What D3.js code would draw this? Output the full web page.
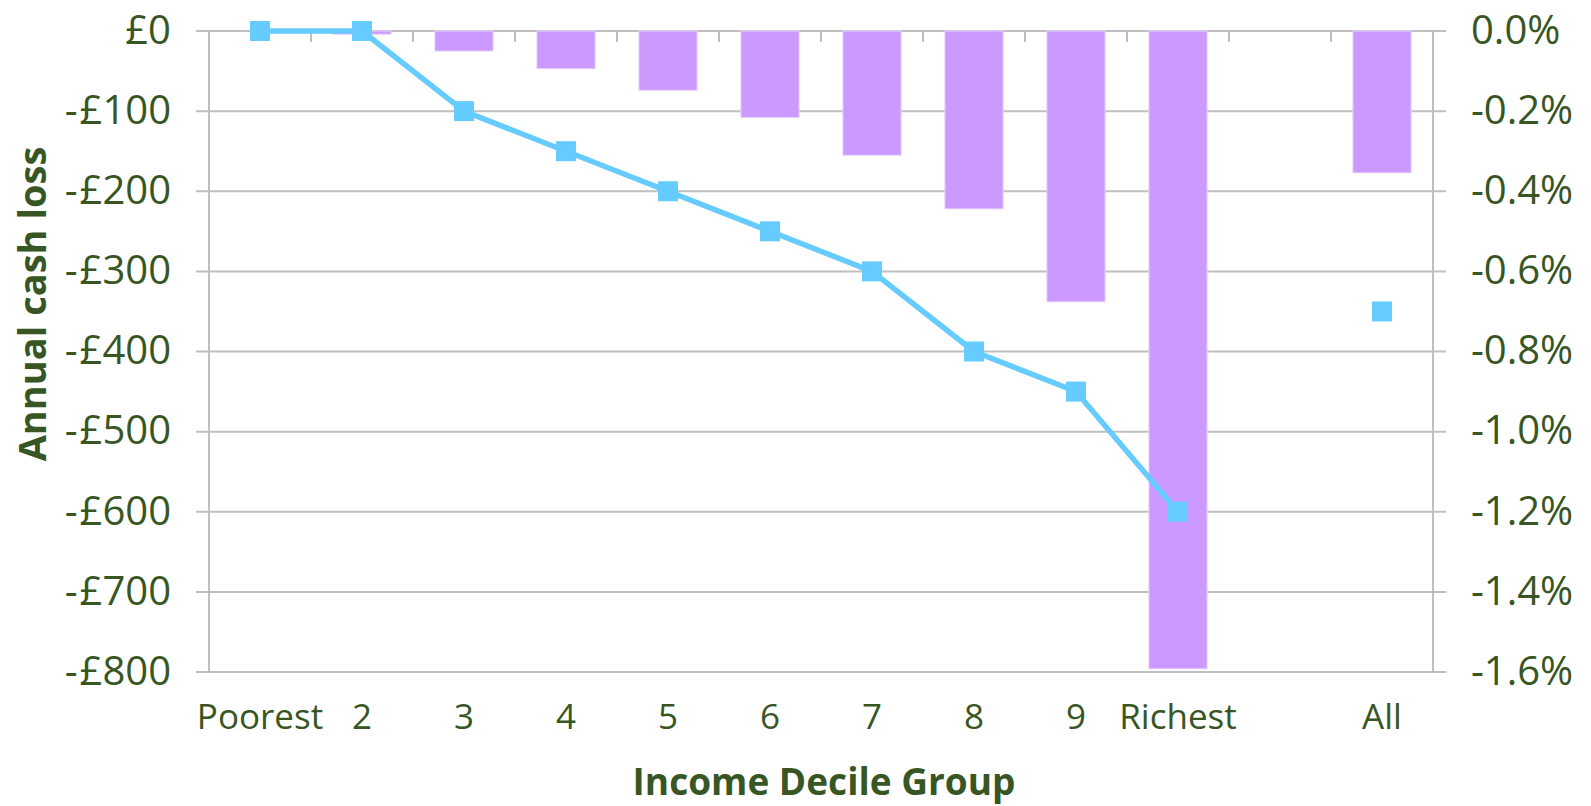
<!DOCTYPE html>
<html>
<head>
<meta charset="utf-8">
<script src="https://cdn.jsdelivr.net/npm/d3@7"></script>
<style>
  html, body { margin: 0; padding: 0; background: #fff; }
  svg { display: block; }
</style>
</head>
<body>
<svg id="chart" width="1591" height="806"></svg>
<script>
// ---- Data ----
const categories = ["Poorest", "2", "3", "4", "5", "6", "7", "8", "9", "Richest", "", "All"];
const cashLoss = [0, -4, -25, -47, -74, -108, -155, -222, -338, -796, null, -177];   // £ per year (left axis)
const pctLoss  = [0, 0, -0.2, -0.3, -0.4, -0.5, -0.6, -0.8, -0.9, -1.2, null, -0.7]; // % of income (right axis)
const leftTicks  = [0, -100, -200, -300, -400, -500, -600, -700, -800];
const rightTicks = [0, -0.2, -0.4, -0.6, -0.8, -1.0, -1.2, -1.4, -1.6];
const xTitle = "Income Decile Group";
const yTitle = "Annual cash loss";

// ---- Layout ----
const W = 1591, H = 806;
const plot = { left: 209, right: 1433, top: 31, bottom: 672 };
const textColor = "#375623";
const gridColor = "#BFBFBF";
const barColor = "#CC99FF";
const lineColor = "#66CCFF";
const font = "'Open Sans', 'Noto Sans', sans-serif";

const svg = d3.select("#chart");

const x = d3.scaleBand().domain(d3.range(categories.length)).range([plot.left, plot.right]).padding(0);
const yL = d3.scaleLinear().domain([-800, 0]).range([plot.bottom, plot.top]);
const yR = d3.scaleLinear().domain([-1.6, 0]).range([plot.bottom, plot.top]);

// gridlines (with outside ticks on both sides)
svg.append("g").selectAll("line").data(leftTicks).join("line")
  .attr("x1", plot.left - 13).attr("x2", plot.right + 13)
  .attr("y1", d => yL(d)).attr("y2", d => yL(d))
  .attr("stroke", gridColor).attr("stroke-width", 2);

// left and right axis lines
svg.append("line").attr("x1", plot.left).attr("x2", plot.left)
  .attr("y1", plot.top).attr("y2", plot.bottom).attr("stroke", gridColor).attr("stroke-width", 2);
svg.append("line").attr("x1", plot.right).attr("x2", plot.right)
  .attr("y1", plot.top).attr("y2", plot.bottom).attr("stroke", gridColor).attr("stroke-width", 2);

// category boundary ticks on zero line (pointing down)
svg.append("g").selectAll("line").data(d3.range(1, categories.length)).join("line")
  .attr("x1", d => x(d)).attr("x2", d => x(d))
  .attr("y1", yL(0)).attr("y2", yL(0) + 11)
  .attr("stroke", gridColor).attr("stroke-width", 2);

// bars
const bw = x.bandwidth() * 0.57;
svg.append("g").selectAll("rect")
  .data(cashLoss.map((v, i) => ({ v, i })).filter(d => d.v !== null && d.v !== 0))
  .join("rect")
  .attr("x", d => x(d.i) + (x.bandwidth() - bw) / 2)
  .attr("width", bw)
  .attr("y", yL(0))
  .attr("height", d => yL(d.v) - yL(0))
  .attr("fill", barColor)
  .attr("stroke", "#E6D0FF").attr("stroke-width", 1);

// line (connected deciles)
const pts = pctLoss.map((v, i) => ({ v, i }));
const line = d3.line()
  .defined(d => d.v !== null)
  .x(d => x(d.i) + x.bandwidth() / 2)
  .y(d => yR(d.v));
svg.append("path").datum(pts.filter(d => d.i <= 9))
  .attr("d", line).attr("fill", "none")
  .attr("stroke", lineColor).attr("stroke-width", 5.5).attr("stroke-linejoin", "round");

// markers
const ms = 20;
svg.append("g").selectAll("rect")
  .data(pts.filter(d => d.v !== null)).join("rect")
  .attr("x", d => x(d.i) + x.bandwidth() / 2 - ms / 2)
  .attr("y", d => yR(d.v) - ms / 2)
  .attr("width", ms).attr("height", ms)
  .attr("fill", lineColor);

// left tick labels
const lt = svg.append("g").selectAll("text").data(leftTicks).join("text")
  .attr("x", 171).attr("y", d => yL(d)).attr("dy", "0.32em")
  .attr("text-anchor", "end")
  .attr("font-family", font).attr("font-size", 40).attr("fill", textColor);
lt.each(function(d) {
  const t = d3.select(this);
  if (d === 0) { t.text("£0"); }
  else {
    t.append("tspan").text("-");
    t.append("tspan").attr("dx", 2).text("£" + Math.abs(d));
  }
});

// right tick labels
svg.append("g").selectAll("text").data(rightTicks).join("text")
  .attr("x", 1471).attr("y", d => yR(d)).attr("dy", "0.32em")
  .attr("text-anchor", "start")
  .attr("font-family", font).attr("font-size", 40).attr("fill", textColor)
  .text(d => d3.format(".1f")(d).replace("−", "-") + "%");

// category labels
svg.append("g").selectAll("text").data(categories.map((c, i) => ({ c, i })).filter(d => d.c !== "")).join("text")
  .attr("x", d => x(d.i) + x.bandwidth() / 2).attr("y", 729)
  .attr("text-anchor", "middle")
  .attr("font-family", font).attr("font-size", 35).attr("fill", textColor)
  .text(d => d.c);

// axis titles
svg.append("text")
  .attr("x", (629 + 1019) / 2).attr("y", 795)
  .attr("text-anchor", "middle")
  .attr("font-family", font).attr("font-size", 37).attr("font-weight", "bold").attr("fill", textColor)
  .text(xTitle);

svg.append("text")
  .attr("transform", "translate(46,304) rotate(-90)")
  .attr("text-anchor", "middle")
  .attr("font-family", font).attr("font-size", 38).attr("font-weight", "bold").attr("fill", textColor)
  .text(yTitle);
</script>
</body>
</html>
